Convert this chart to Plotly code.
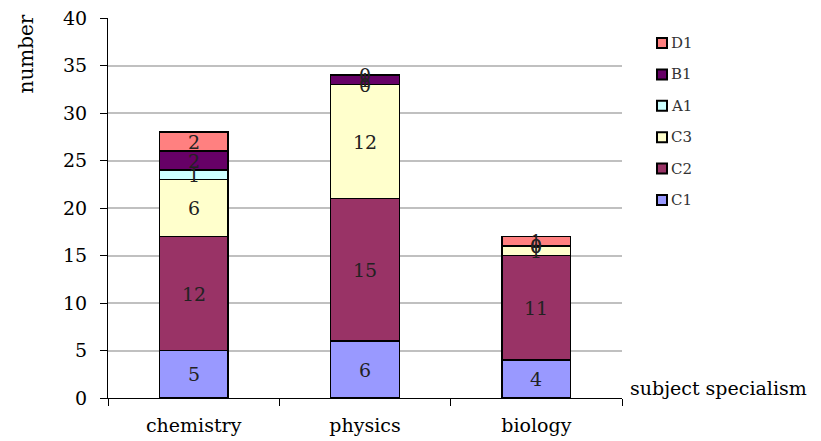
import plotly.graph_objects as go

subjects = ["chemistry", "physics", "biology"]
series_names = ["C1", "C2", "C3", "A1", "B1", "D1"]
c1 = [5, 6, 4]
c2 = [12, 15, 11]
c3 = [6, 12, 1]
a1 = [1, 0, 0]
b1 = [2, 1, 0]
d1 = [2, 0, 1]
series_values = [c1, c2, c3, a1, b1, d1]
colors = ["#9999FF", "#993366", "#FFFFCC", "#CCFFFF", "#660066", "#FF8080"]
y_ticks = [0, 5, 10, 15, 20, 25, 30, 35, 40]

serif = "DejaVu Serif"

W, H = 821, 441
M_L, M_R, M_T, M_B = 108, 199, 18, 43
PW = W - M_L - M_R
PH = H - M_T - M_B


def px_x(px):
    return (px - M_L) / PW


def px_y(py):
    return (H - M_B - py) / PH


fig = go.Figure()
for name, vals, col in zip(series_names, series_values, colors):
    fig.add_trace(go.Bar(
        x=subjects, y=vals, name=name, showlegend=False,
        marker=dict(color=col, line=dict(color="black", width=1.5)),
        width=0.4,
    ))

# value labels centred in each segment (zero-height segments included)
base = [0] * len(subjects)
for vals in series_values:
    for i, v in enumerate(vals):
        fig.add_annotation(
            x=subjects[i], y=base[i] + v / 2, text=str(v), showarrow=False,
            font=dict(family=serif, size=19, color="#222222"),
            xref="x", yref="y",
        )
        base[i] += v

# legend: top-to-bottom in reverse stacking order
legend_top, legend_step = 43, 31.4
for k, (name, col) in enumerate(reversed(list(zip(series_names, colors)))):
    cy = legend_top + k * legend_step
    fig.add_shape(
        type="rect", xref="paper", yref="paper",
        x0=px_x(657), x1=px_x(667), y0=px_y(cy + 5), y1=px_y(cy - 5),
        fillcolor=col, line=dict(color="black", width=2),
    )
    fig.add_annotation(
        text=name, xref="paper", yref="paper", x=px_x(669), y=px_y(cy),
        xanchor="left", yanchor="middle", showarrow=False,
        font=dict(family=serif, size=15, color="#333333"),
    )

fig.add_annotation(
    text="number", textangle=-90, xref="paper", yref="paper",
    x=px_x(25), y=px_y(13), xanchor="center", yanchor="top", showarrow=False,
    font=dict(family=serif, size=20, color="black"),
)
fig.add_annotation(
    text="subject specialism", xref="paper", yref="paper",
    x=1.0, y=0.0, xanchor="left", yanchor="bottom", xshift=6, yshift=-3,
    showarrow=False, font=dict(family=serif, size=19, color="black"),
)

fig.update_layout(
    barmode="stack",
    width=W, height=H,
    margin=dict(l=M_L, r=M_R, t=M_T, b=M_B),
    plot_bgcolor="white", paper_bgcolor="white",
    font=dict(family=serif, size=19, color="black"),
    showlegend=False,
)
fig.update_xaxes(
    automargin=False,
    showline=True, linecolor="black", linewidth=1,
    ticks="outside", tickson="boundaries", ticklen=7, tickcolor="black",
    tickfont=dict(family=serif, size=19, color="black"),
    ticklabelstandoff=10,
    showgrid=False,
)
fig.update_yaxes(
    automargin=False,
    range=[0, 40], tickvals=y_ticks,
    showline=True, linecolor="black", linewidth=1,
    ticks="outside", ticklen=7, tickcolor="black",
    tickfont=dict(family=serif, size=19, color="black"),
    ticklabelstandoff=9,
    showgrid=True, gridcolor="#C0C0C0", gridwidth=1.5,
    zeroline=False,
)

fig.write_html("out.html")
